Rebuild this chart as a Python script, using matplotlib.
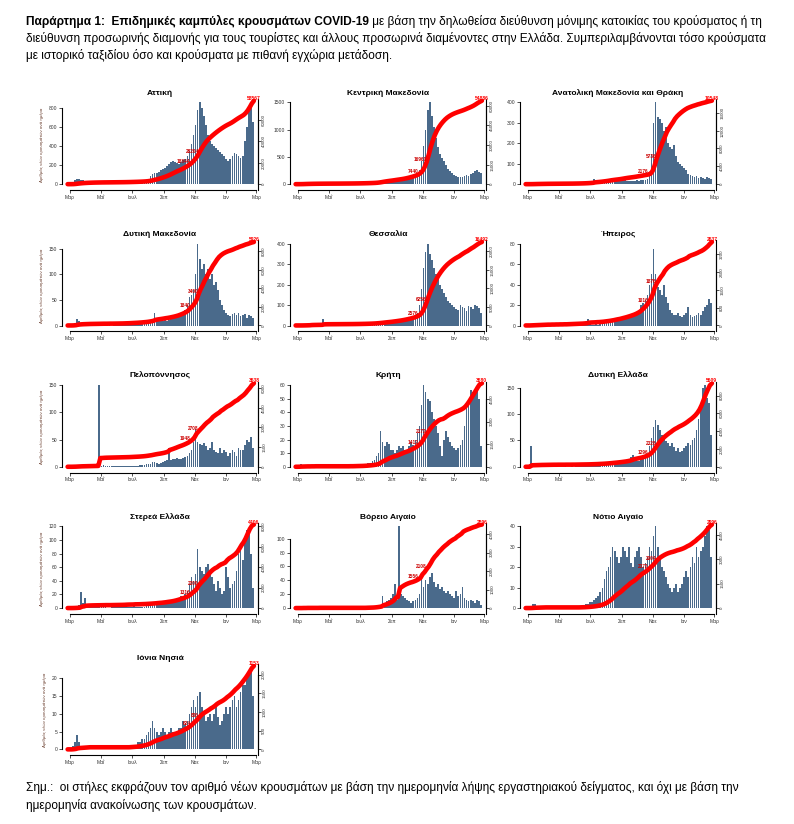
import numpy as np
import pandas as pd
import matplotlib
matplotlib.use('Agg')
import matplotlib.pyplot as plt
import matplotlib.dates as mdates
from matplotlib.ticker import MaxNLocator, FixedLocator

plt.rcParams['font.family'] = ['Liberation Sans Narrow', 'Liberation Sans', 'DejaVu Sans']

# daily new cases, one value per 4-day bin starting 26/02/2020
start = pd.Timestamp('2020-02-26')
bin_days = 4

regions = ['Αττική', 'Κεντρική Μακεδονία', 'Ανατολική Μακεδονία και Θράκη',
           'Δυτική Μακεδονία', 'Θεσσαλία', 'Ήπειρος',
           'Πελοπόννησος', 'Κρήτη', 'Δυτική Ελλάδα',
           'Στερεά Ελλάδα', 'Βόρειο Αιγαίο', 'Νότιο Αιγαίο',
           'Ιόνια Νησιά']

attiki = [0, 2, 15, 40, 60, 55, 45, 40, 30, 25, 20, 18, 15, 12, 10, 8, 8,
          6, 5, 5, 6, 5, 6, 5, 6, 5, 6, 8, 10, 10, 12, 14,
          15, 16, 18, 20, 25, 30, 40, 60, 90, 110, 120, 115, 130, 150, 160, 170,
          190, 210, 230, 240, 230, 220, 210, 230, 250, 270, 300, 350, 420, 520, 620,
          780, 860, 800, 720, 620, 520, 450, 420, 400, 380, 360, 340, 320, 300, 270,
          240, 260, 300, 330, 320, 300, 280, 300, 450, 600, 780, 850, 650]
k_makedonia = [0, 1, 5, 10, 15, 12, 10, 8, 8, 6, 5, 4, 4, 3, 3, 3, 2,
               2, 2, 2, 2, 3, 3, 3, 3, 3, 4, 4, 5, 6, 6, 8,
               8, 10, 10, 12, 14, 16, 20, 30, 45, 60, 70, 65, 60, 55, 50, 55,
               60, 60, 55, 60, 70, 80, 90, 100, 110, 120, 140, 180, 260, 420, 700,
               1000, 1350, 1500, 1250, 1050, 850, 680, 560, 480, 420, 350, 280, 240, 200, 170,
               150, 140, 130, 140, 160, 170, 160, 180, 200, 240, 260, 230, 210]
amth = [0, 0, 1, 2, 3, 3, 2, 2, 2, 2, 2, 1, 1, 1, 1, 1, 1,
        1, 1, 1, 1, 1, 1, 2, 2, 2, 3, 3, 4, 5, 6, 8,
        10, 25, 12, 10, 12, 14, 15, 16, 18, 20, 16, 15, 14, 15, 18, 20,
        20, 18, 16, 15, 16, 18, 20, 18, 20, 22, 20, 25, 40, 150, 300,
        400, 330, 320, 300, 260, 280, 200, 180, 170, 190, 140, 110, 100, 90, 80,
        70, 50, 45, 40, 35, 40, 30, 35, 30, 28, 35, 30, 25]
d_makedonia = [0, 0, 2, 5, 12, 8, 4, 3, 2, 2, 2, 1, 1, 1, 1, 1, 1,
               1, 0, 1, 1, 0, 1, 1, 1, 1, 1, 2, 2, 2, 3, 3,
               3, 3, 4, 4, 5, 5, 6, 8, 10, 12, 25, 10, 8, 8, 9, 10,
               8, 10, 12, 12, 14, 16, 20, 22, 25, 30, 40, 55, 60, 70, 100,
               160, 130, 110, 120, 100, 110, 90, 100, 80, 85, 70, 50, 40, 30, 25,
               20, 18, 22, 25, 20, 25, 18, 20, 22, 15, 20, 18, 15]
thessalia = [0, 0, 1, 2, 3, 4, 5, 12, 5, 3, 3, 2, 4, 30, 5, 2, 1,
             1, 1, 1, 1, 1, 1, 1, 1, 1, 1, 1, 2, 2, 2, 3,
             3, 3, 4, 4, 5, 6, 8, 10, 12, 14, 15, 16, 15, 14, 15, 18,
             18, 20, 20, 22, 25, 28, 30, 32, 35, 40, 50, 60, 100, 180, 280,
             360, 400, 350, 320, 280, 250, 230, 200, 180, 160, 140, 120, 110, 100, 90,
             80, 75, 100, 90, 85, 70, 95, 90, 80, 100, 95, 85, 60]
ipeiros = [0, 0, 1, 1, 1, 1, 1, 1, 1, 1, 1, 0, 1, 0, 1, 0, 1,
           0, 1, 0, 1, 1, 1, 1, 1, 1, 1, 1, 2, 2, 6, 2,
           1, 1, 2, 1, 2, 2, 3, 3, 3, 4, 4, 5, 5, 4, 6, 6,
           6, 7, 7, 8, 8, 10, 12, 14, 20, 22, 25, 30, 40, 50, 75,
           50, 38, 35, 30, 40, 28, 22, 15, 12, 10, 10, 12, 9, 8, 10,
           12, 18, 10, 8, 9, 10, 12, 10, 14, 18, 20, 26, 22]
peloponnisos = [0, 0, 1, 1, 2, 2, 2, 1, 1, 1, 1, 1, 1, 1, 1, 150, 2,
                3, 2, 1, 1, 1, 1, 1, 1, 1, 1, 1, 1, 1, 2, 2,
                2, 2, 2, 3, 3, 4, 5, 6, 6, 8, 8, 7, 6, 7, 8, 10,
                12, 35, 12, 14, 15, 16, 15, 14, 16, 18, 20, 25, 30, 45, 70,
                45, 42, 40, 44, 38, 30, 35, 45, 30, 28, 25, 35, 25, 30, 28,
                20, 25, 30, 28, 20, 35, 30, 30, 40, 50, 45, 55, 35]
kriti = [0, 1, 2, 1, 1, 1, 0, 1, 0, 1, 0, 0, 0, 0, 0, 0, 0,
         0, 0, 0, 0, 0, 0, 0, 0, 0, 1, 0, 1, 1, 1, 1,
         1, 2, 2, 3, 3, 4, 5, 8, 10, 26, 18, 15, 18, 17, 12, 12,
         10, 12, 15, 14, 15, 12, 12, 15, 18, 16, 20, 25, 30, 45, 60,
         55, 50, 48, 40, 35, 30, 25, 15, 8, 20, 26, 22, 18, 15, 14,
         12, 14, 16, 20, 30, 43, 50, 56, 55, 57, 58, 50, 15]
d_ellada = [0, 0, 40, 3, 2, 2, 2, 2, 1, 1, 1, 1, 1, 1, 0, 1, 0,
            0, 0, 1, 0, 0, 1, 0, 1, 1, 1, 1, 1, 1, 1, 2,
            2, 2, 2, 3, 3, 3, 4, 4, 5, 5, 6, 6, 6, 6, 7, 8,
            8, 10, 12, 18, 22, 14, 12, 12, 14, 16, 20, 25, 40, 55, 75,
            88, 80, 70, 60, 55, 48, 45, 40, 45, 38, 30, 35, 28, 30, 35,
            40, 45, 42, 50, 55, 70, 90, 120, 150, 155, 130, 120, 60]
sterea = [0, 0, 1, 2, 3, 4, 24, 8, 15, 4, 2, 2, 1, 1, 1, 1, 1,
          1, 1, 0, 0, 1, 1, 1, 1, 1, 1, 2, 3, 2, 1, 1,
          4, 1, 1, 2, 2, 2, 3, 3, 3, 4, 4, 5, 5, 4, 6, 6,
          8, 7, 8, 10, 12, 14, 15, 18, 15, 20, 25, 35, 45, 40, 50,
          86, 60, 55, 50, 60, 65, 55, 45, 35, 25, 40, 30, 20, 25, 60,
          45, 30, 35, 40, 55, 80, 85, 70, 95, 115, 110, 80, 30]
v_aigaio = [0, 0, 0, 1, 0, 1, 0, 0, 0, 0, 0, 1, 0, 0, 0, 0, 0,
            0, 0, 0, 0, 0, 0, 0, 0, 0, 0, 0, 0, 0, 0, 0,
            0, 0, 1, 1, 1, 1, 2, 3, 4, 5, 18, 8, 10, 12, 15, 20,
            35, 12, 118, 20, 18, 15, 12, 10, 8, 10, 12, 15, 20, 48, 30,
            40, 35, 45, 50, 38, 30, 35, 28, 30, 25, 22, 25, 20, 18, 15,
            25, 18, 20, 30, 15, 12, 10, 12, 10, 8, 12, 10, 5]
n_aigaio = [0, 0, 1, 2, 2, 1, 1, 1, 1, 1, 0, 0, 0, 0, 0, 0, 0,
            0, 0, 0, 0, 0, 0, 0, 0, 0, 1, 1, 1, 2, 2, 3,
            3, 4, 5, 6, 8, 10, 14, 18, 20, 25, 30, 28, 25, 22, 25, 30,
            28, 25, 30, 22, 20, 25, 28, 30, 25, 20, 22, 25, 30, 28, 35,
            40, 30, 25, 20, 18, 15, 12, 10, 8, 10, 12, 8, 10, 12, 15,
            18, 15, 20, 25, 22, 30, 25, 28, 30, 35, 40, 38, 25]
ionia = [0, 0, 1, 2, 4, 2, 1, 1, 1, 1, 1, 0, 0, 0, 0, 0, 0,
         0, 0, 0, 0, 0, 0, 0, 0, 0, 0, 0, 0, 0, 1, 1,
         1, 1, 2, 2, 3, 3, 4, 5, 6, 8, 6, 5, 4, 5, 6, 5,
         4, 5, 6, 5, 4, 5, 6, 6, 8, 7, 8, 10, 12, 14, 12,
         15, 16, 12, 10, 8, 9, 10, 8, 10, 12, 9, 7, 8, 10, 12,
         10, 12, 14, 15, 12, 14, 16, 18, 18, 20, 22, 23, 15]

series = [attiki, k_makedonia, amth, d_makedonia, thessalia, ipeiros,
          peloponnisos, kriti, d_ellada, sterea, v_aigaio, n_aigaio, ionia]

final_labels = ['58567', '54886', '10548', '5926', '16492', '2637', '3638',
                '3680', '5609', '4406', '2896', '2996', '1153']

left_ticks = [[0, 200, 400, 600, 800], [0, 500, 1000, 1500], [0, 100, 200, 300, 400],
              [0, 50, 100, 150], [0, 100, 200, 300, 400], [0, 20, 40, 60, 80],
              [0, 50, 100, 150], [0, 10, 20, 30, 40, 50, 60], [0, 50, 100, 150],
              [0, 20, 40, 60, 80, 100, 120], [0, 20, 40, 60, 80, 100], [0, 10, 20, 30, 40],
              [0, 5, 10, 15, 20]]

month_ticks = pd.to_datetime(['2020-03-01', '2020-05-01', '2020-07-01', '2020-09-01',
                              '2020-11-01', '2021-01-01', '2021-03-01'])
month_labels = ['Μαρ', 'Μαΐ', 'Ιουλ', 'Σεπ', 'Νοε', 'Ιαν', 'Μαρ']
mark_dates = pd.to_datetime(['2020-10-25', '2020-11-10'])

bar_color = '#4a6a8b'
W, H = 794, 824

fig = plt.figure(figsize=(W / 100, H / 100), dpi=100)

# header and footer text
tax = fig.add_axes([0, 0, 1, 1])
tax.axis('off')
tax.set_xlim(0, W)
tax.set_ylim(H, 0)
hsize = 8.6
t1 = tax.text(26, 25, 'Παράρτημα 1:  Επιδημικές καμπύλες κρουσμάτων COVID-19',
              fontsize=hsize, fontweight='bold', va='baseline')
tax.annotate(' με βάση την δηλωθείσα διεύθυνση μόνιμης κατοικίας του κρούσματος ή τη',
             xy=(1, 0), xycoords=t1, va='bottom', fontsize=hsize)
tax.text(26, 42, 'διεύθυνση προσωρινής διαμονής για τους τουρίστες και άλλους προσωρινά '
         'διαμένοντες στην Ελλάδα. Συμπεριλαμβάνονται τόσο κρούσματα',
         fontsize=hsize, va='baseline')
tax.text(26, 59, 'με ιστορικό ταξιδίου όσο και κρούσματα με πιθανή εγχώρια μετάδοση.',
         fontsize=hsize, va='baseline')
tax.text(26, 791, 'Σημ.:  οι στήλες εκφράζουν τον αριθμό νέων κρουσμάτων με βάση την ημερομηνία '
         'λήψης εργαστηριακού δείγματος, και όχι με βάση την',
         fontsize=hsize, va='baseline')
tax.text(26, 809, 'ημερομηνία ανακοίνωσης των κρουσμάτων.', fontsize=hsize, va='baseline')

col_left = [62, 290, 520]
ax_w = 196
ax_h = 91

for k, (name, vals) in enumerate(zip(regions, series)):
    r, c = divmod(k, 3)
    bottom_px = 190 + 141.3 * r
    ax = fig.add_axes([col_left[c] / W, 1 - bottom_px / H, ax_w / W, ax_h / H])
    vals = np.array(vals, dtype=float)
    dates = start + pd.to_timedelta(np.arange(len(vals)) * bin_days + bin_days / 2, unit='D')
    ax.bar(dates, vals, width=bin_days * 0.85, color=bar_color, edgecolor='none', zorder=2)

    top = max(vals.max(), left_ticks[k][-1])
    ax.set_ylim(-0.07 * top, 1.04 * top)
    ax.set_xlim(pd.Timestamp('2020-02-15'), pd.Timestamp('2021-03-04'))
    ax.set_yticks(left_ticks[k])
    ax.set_xticks(month_ticks)
    ax.set_xticklabels(month_labels)
    ax.tick_params(labelsize=3.6, length=2, width=0.6, pad=1.5, colors='#333333')
    ax.spines['top'].set_visible(False)
    ax.spines['left'].set_bounds(0, left_ticks[k][-1])
    ax.spines['bottom'].set_bounds(mdates.date2num(month_ticks[0]), mdates.date2num(month_ticks[-1]))
    for s in ['left', 'bottom']:
        ax.spines[s].set_linewidth(0.8)
    ax.set_title(name, fontsize=6, fontweight='bold', pad=3)
    if c == 0:
        ax.set_ylabel('Αριθμός νέων κρουσμάτων ανά ημέρα', fontsize=3.2, color='#6b3f2f', labelpad=3)

    # cumulative cases on a second axis
    cum = np.concatenate([[0], np.cumsum(vals) * bin_days])
    cdates = start + pd.to_timedelta(np.arange(len(cum)) * bin_days, unit='D')
    ax2 = ax.twinx()
    ax2.plot(cdates, cum, color='#ff0000', lw=3.3, solid_capstyle='round', zorder=3)
    C = cum[-1]
    ax2.set_ylim(-0.07 * C, 1.02 * C)
    rt = [t for t in MaxNLocator(5).tick_values(0, C) if 0 <= t <= C]
    ax2.yaxis.set_major_locator(FixedLocator(rt))
    ax2.spines['right'].set_bounds(0, rt[-1])
    ax2.spines['right'].set_linewidth(0.8)
    for s in ['top', 'left', 'bottom']:
        ax2.spines[s].set_visible(False)
    ax2.tick_params(labelsize=3.2, length=2, width=0.6, pad=1, colors='#333333')
    for lab in ax2.get_yticklabels():
        lab.set_rotation(90)
        lab.set_va('center')
    ax2.text(cdates[-1], C, final_labels[k], color='#ff0000', fontsize=3.6,
             fontweight='bold', ha='center', va='bottom', clip_on=False)
    for d in mark_dates:
        i = int((d - start).days // bin_days)
        ax2.text(cdates[i], cum[i], str(int(cum[i])), color='#cc0000', fontsize=3.4,
                 fontweight='bold', ha='right', va='bottom')

fig.savefig('out.png', dpi=100)
